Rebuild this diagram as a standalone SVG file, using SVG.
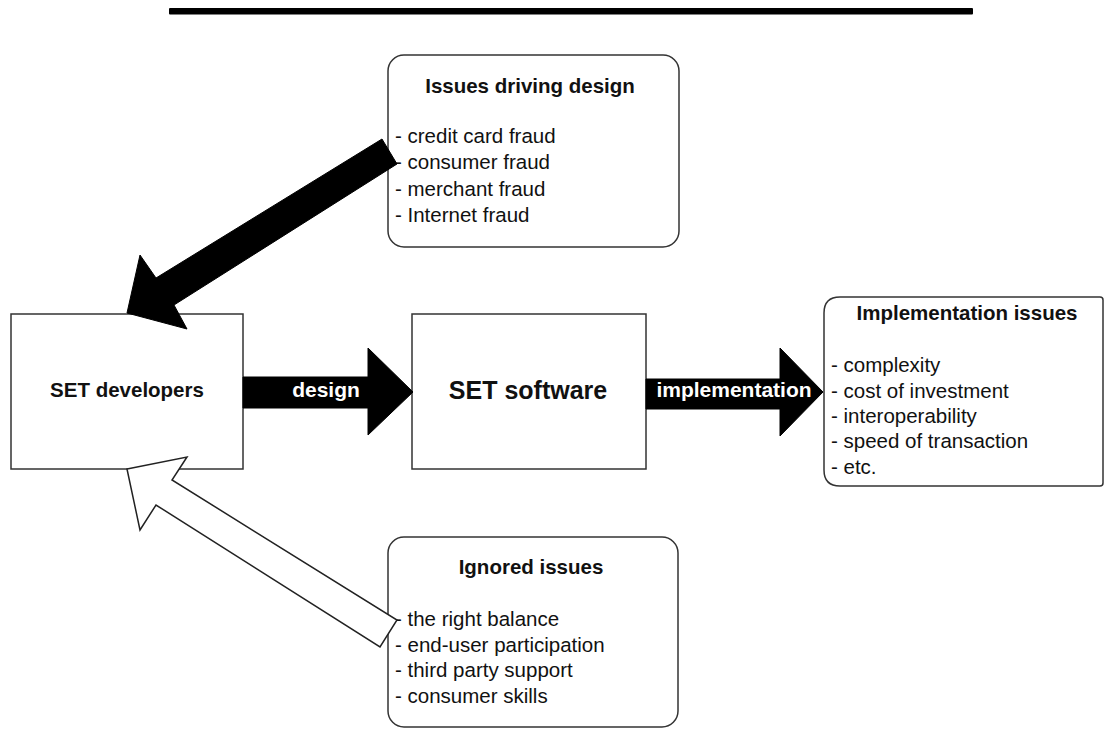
<svg xmlns="http://www.w3.org/2000/svg" width="1104" height="729" viewBox="0 0 1104 729">
<style>
.box{fill:#fff;stroke:#333;stroke-width:1.5}
.t{font-family:"Liberation Sans",Arial,sans-serif;font-size:20.5px;fill:#111}
.h{font-family:"Liberation Sans",Arial,sans-serif;font-size:20.5px;font-weight:bold;fill:#111;text-anchor:middle}
.w{font-family:"Liberation Sans",Arial,sans-serif;font-size:21px;font-weight:bold;fill:#fff;text-anchor:middle}
.solid{fill:#000;stroke:#000;stroke-width:1}
.hollow{fill:#fff;stroke:#222;stroke-width:1.5;stroke-linejoin:miter}
</style>
<rect x="0" y="0" width="1104" height="729" fill="#fff"/>
<rect x="169" y="8" width="804" height="6.5" rx="1" fill="#000"/>

<g id="node-issues-driving">
<rect class="box" x="388" y="55" width="291" height="192" rx="16"/>
<text class="h" x="530" y="93">Issues driving design</text>
<text class="t" x="395" y="143">- credit card fraud</text>
<text class="t" x="395" y="169">- consumer fraud</text>
<text class="t" x="395" y="196">- merchant fraud</text>
<text class="t" x="395" y="222">- Internet fraud</text>
</g>

<g id="node-set-developers">
<rect class="box" x="11" y="314" width="232" height="155"/>
<text class="h" x="127" y="397">SET developers</text>
</g>

<g id="node-set-software">
<rect class="box" x="412" y="314" width="234" height="155"/>
<text class="h" x="528" y="399" style="font-size:25px">SET software</text>
</g>

<g id="node-implementation-issues">
<path class="box" d="M840,297 H1100 Q1103,297 1103,300 V483 Q1103,486 1100,486 H840 Q824,486 824,470 V313 Q824,297 840,297 Z"/>
<text class="h" x="967" y="320">Implementation issues</text>
<text class="t" x="831" y="372">- complexity</text>
<text class="t" x="831" y="398">- cost of investment</text>
<text class="t" x="831" y="423">- interoperability</text>
<text class="t" x="831" y="448">- speed of transaction</text>
<text class="t" x="831" y="474">- etc.</text>
</g>

<g id="node-ignored-issues">
<rect class="box" x="388" y="537" width="290" height="190" rx="16"/>
<text class="h" x="531" y="574">Ignored issues</text>
<text class="t" x="395" y="626">- the right balance</text>
<text class="t" x="395" y="652">- end-user participation</text>
<text class="t" x="395" y="677">- third party support</text>
<text class="t" x="395" y="703">- consumer skills</text>
</g>

<g id="connectors">
<polygon class="solid" points="382,139 397,164 174,305 187,329 127,313 140,255 156,278"/>
<polygon class="hollow" points="127,469 187,457 172,480 397,620 380,647 156,505 140,530"/>
<g id="edge-design">
<polygon class="solid" points="243,377 368,377 368,348 413,392 368,435 368,408 243,408"/>
<text class="w" x="326" y="397">design</text>
</g>
<g id="edge-implementation">
<polygon class="solid" points="646,379 780,379 780,348 823,392 780,436 780,409 646,409"/>
<text class="w" x="734" y="397">implementation</text>
</g>
</g>
</svg>
